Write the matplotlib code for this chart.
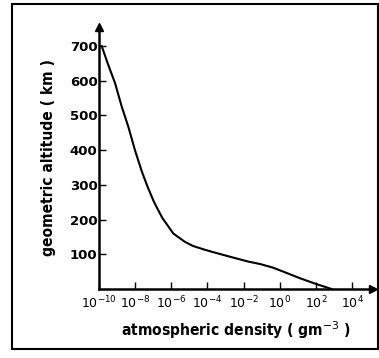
import numpy as np
import matplotlib
matplotlib.use('Agg')
import matplotlib.pyplot as plt
from matplotlib.patches import Rectangle

# altitude (km) vs log10 of atmospheric density (g m^-3)
altitude = [700, 646, 593, 525, 468, 400, 340, 293, 250, 205, 160, 149, 136, 124,
            114, 106, 93, 79, 72, 62, 50, 31, 14, 0]
log_density = [-9.85, -9.49, -9.11, -8.74, -8.38, -8.01, -7.64, -7.3, -6.95, -6.5,
               -5.89, -5.6, -5.25, -4.8, -4.2, -3.67, -2.75, -1.74, -1.09, -0.4,
               0.2, 1.12, 2.04, 2.87]
density = [10.0 ** v for v in log_density]

y_ticks = [100, 200, 300, 400, 500, 600, 700]
x_exps = [-10, -8, -6, -4, -2, 0, 2, 4]

fig = plt.figure(figsize=(3.79, 3.58), dpi=100)
ax = fig.add_axes([99 / 379, 69 / 358, 274 / 379, 262 / 358])

ax.plot(density, altitude, color='black', lw=1.5, solid_joinstyle='round')

ax.set_xscale('log')
ax.set_xlim(1e-10, 10 ** 5.16)
ax.set_ylim(0, 755)

for s in ['top', 'right']:
    ax.spines[s].set_visible(False)
for s in ['left', 'bottom']:
    ax.spines[s].set_linewidth(1.8)

# arrow heads on the axes
ax.plot(1, 0, '>', color='black', ms=5.5, transform=ax.transAxes, clip_on=False)
ax.plot(0, 1, '^', color='black', ms=5.5, transform=ax.transAxes, clip_on=False)

ax.set_xticks([10.0 ** e for e in x_exps])
ax.set_xticklabels([r'$10^{%d}$' % e for e in x_exps], fontsize=9)
ax.xaxis.set_minor_locator(matplotlib.ticker.NullLocator())
ax.set_yticks(y_ticks)
ax.set_yticklabels([str(v) for v in y_ticks], fontsize=9.5, fontweight='bold')

ax.tick_params(axis='both', direction='in', length=5, width=1)
ax.tick_params(axis='y', pad=1)
ax.tick_params(axis='x', pad=4)

ax.set_ylabel('geometric altitude ( km )', fontsize=11.2, fontweight='bold',
              fontstretch='condensed', labelpad=10)
ax.set_xlabel(r'atmospheric density ( gm$^{-3}$ )', fontsize=11.2, fontweight='bold',
              fontstretch='condensed', labelpad=6)

# outer frame
fig.patches.append(Rectangle((12 / 379, 9 / 358), 366 / 379, 345 / 358,
                             transform=fig.transFigure, fill=False,
                             edgecolor='black', lw=1.5))

fig.savefig('out.png', dpi=100)
